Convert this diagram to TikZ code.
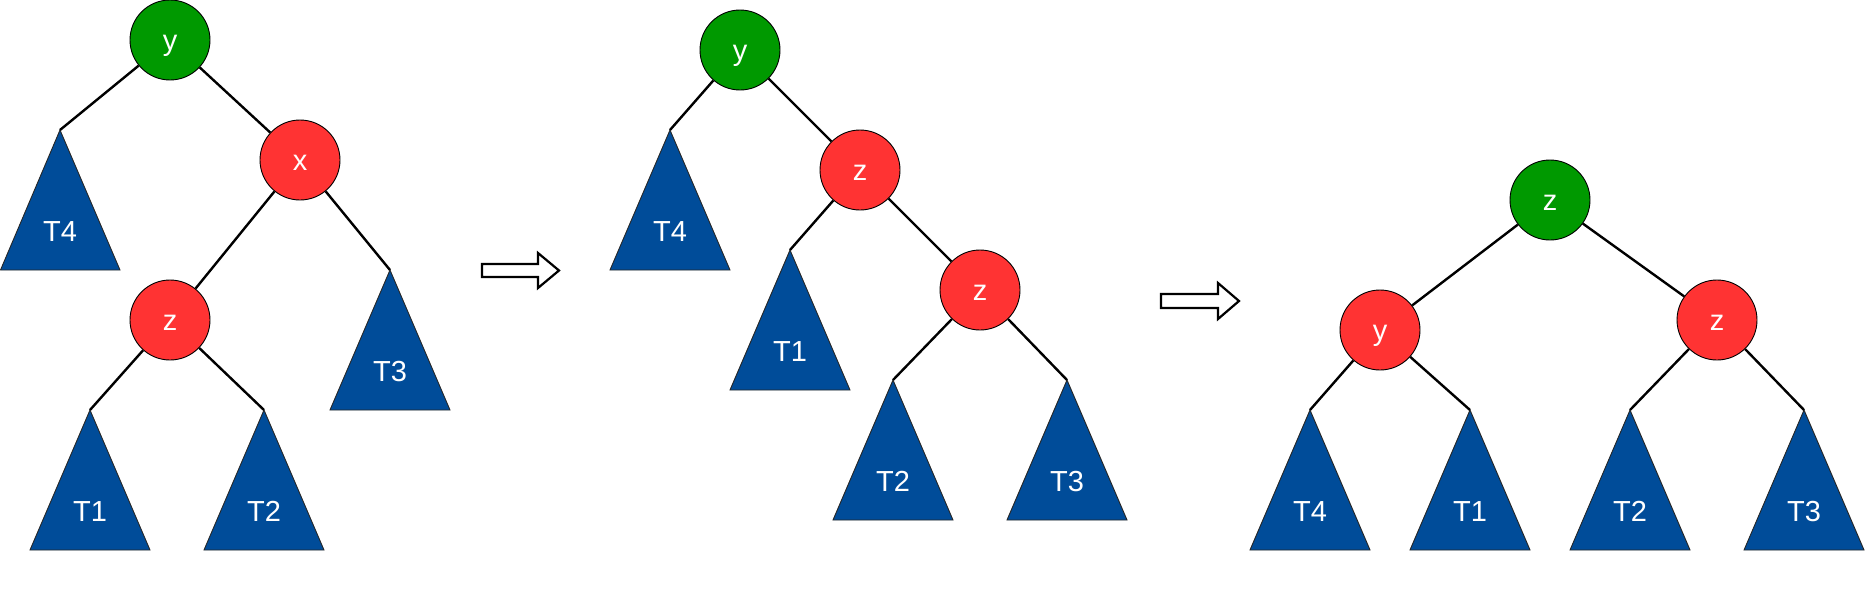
\documentclass[tikz,border=0pt]{standalone}
\usepackage{fontspec}
\setmainfont{Liberation Sans}
\definecolor{rbgreen}{HTML}{009900}
\definecolor{rbred}{HTML}{FF3333}
\definecolor{rbblue}{HTML}{004C99}
\begin{document}
\begin{tikzpicture}[x=1pt,y=-1pt,
  vtx/.style={circle,draw=black,line width=0.9pt,minimum size=80pt,inner sep=0pt,
    text=white,font=\fontsize{29}{34}\selectfont,text height=20pt,text depth=0pt},
  gvtx/.style={vtx,fill=rbgreen},
  rvtx/.style={vtx,fill=rbred},
  tri/.style={fill=rbblue,draw=black!85,line width=0.9pt,line join=miter},
  trilabel/.style={anchor=base,text=white,inner sep=0pt,font=\fontsize{29}{34}\selectfont},
  edge/.style={draw=black,line width=2.4pt},
  bigarrow/.style={draw=black,fill=white,line width=2.2pt,line join=miter}]
\useasboundingbox (0,0) rectangle (1865,589);

% ---------- left tree ----------
\node[gvtx] (ly) at (170,40) {y};
\node[rvtx] (lx) at (300,160) {x};
\node[rvtx] (lz) at (170,320) {z};
\coordinate (lT4) at (60,130);
\coordinate (lT3) at (390,270);
\coordinate (lT1) at (90,410);
\coordinate (lT2) at (264,410);
\draw[tri] (lT4) -- (0.5,270) -- (120,270) -- cycle;
\draw[tri] (lT3) -- (330,410) -- (450,410) -- cycle;
\draw[tri] (lT1) -- (30,550) -- (150,550) -- cycle;
\draw[tri] (lT2) -- (204,550) -- (324,550) -- cycle;
\node[trilabel] (lT4t) at (60,241) {T4};
\node[trilabel] (lT3t) at (390,381) {T3};
\node[trilabel] (lT1t) at (90,521) {T1};
\node[trilabel] (lT2t) at (264,521) {T2};
\draw[edge] (ly) -- (lT4);
\draw[edge] (ly) -- (lx);
\draw[edge] (lx) -- (lz);
\draw[edge] (lx) -- (lT3);
\draw[edge] (lz) -- (lT1);
\draw[edge] (lz) -- (lT2);

% ---------- arrow 1 ----------
\draw[bigarrow] (482,264) -- (538,264) -- (538,253) -- (559,270.5) -- (538,288) -- (538,277) -- (482,277) -- cycle;

% ---------- middle tree ----------
\node[gvtx] (my) at (740,50) {y};
\node[rvtx] (mz1) at (860,170) {z};
\node[rvtx] (mz2) at (980,290) {z};
\coordinate (mT4) at (670,130);
\coordinate (mT1) at (790,250);
\coordinate (mT2) at (893,380);
\coordinate (mT3) at (1067,380);
\draw[tri] (mT4) -- (610,270) -- (730,270) -- cycle;
\draw[tri] (mT1) -- (730,390) -- (850,390) -- cycle;
\draw[tri] (mT2) -- (833,520) -- (953,520) -- cycle;
\draw[tri] (mT3) -- (1007,520) -- (1127,520) -- cycle;
\node[trilabel] (mT4t) at (670,241) {T4};
\node[trilabel] (mT1t) at (790,361) {T1};
\node[trilabel] (mT2t) at (893,491) {T2};
\node[trilabel] (mT3t) at (1067,491) {T3};
\draw[edge] (my) -- (mT4);
\draw[edge] (my) -- (mz1);
\draw[edge] (mz1) -- (mT1);
\draw[edge] (mz1) -- (mz2);
\draw[edge] (mz2) -- (mT2);
\draw[edge] (mz2) -- (mT3);

% ---------- arrow 2 ----------
\draw[bigarrow] (1161,294) -- (1218,294) -- (1218,283) -- (1239,301) -- (1218,319) -- (1218,308) -- (1161,308) -- cycle;

% ---------- right tree ----------
\node[gvtx] (rz) at (1550,200) {z};
\node[rvtx] (ry) at (1380,330) {y};
\node[rvtx] (rz2) at (1717,320) {z};
\coordinate (rT4) at (1310,410);
\coordinate (rT1) at (1470,410);
\coordinate (rT2) at (1630,410);
\coordinate (rT3) at (1804,410);
\draw[tri] (rT4) -- (1250,550) -- (1370,550) -- cycle;
\draw[tri] (rT1) -- (1410,550) -- (1530,550) -- cycle;
\draw[tri] (rT2) -- (1570,550) -- (1690,550) -- cycle;
\draw[tri] (rT3) -- (1744,550) -- (1864,550) -- cycle;
\node[trilabel] (rT4t) at (1310,521) {T4};
\node[trilabel] (rT1t) at (1470,521) {T1};
\node[trilabel] (rT2t) at (1630,521) {T2};
\node[trilabel] (rT3t) at (1804,521) {T3};
\draw[edge] (rz) -- (ry);
\draw[edge] (rz) -- (rz2);
\draw[edge] (ry) -- (rT4);
\draw[edge] (ry) -- (rT1);
\draw[edge] (rz2) -- (rT2);
\draw[edge] (rz2) -- (rT3);
\end{tikzpicture}
\end{document}
